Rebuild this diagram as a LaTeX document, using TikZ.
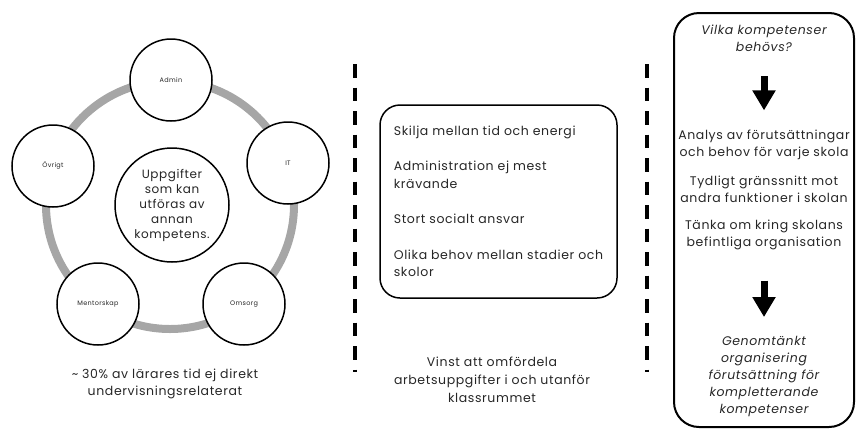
\documentclass[tikz,border=0pt]{standalone}
\usepackage{fontspec}
\setmainfont{Poppins}[LetterSpace=5]
\usetikzlibrary{arrows.meta}
\definecolor{ringgray}{HTML}{A6A6A6}
\definecolor{textgray}{HTML}{262626}
\begin{document}
\begin{tikzpicture}[x=1pt, y=-1pt,
  ring style/.style={draw=ringgray, line width=8pt},
  topic style/.style={circle, draw, line width=1.5pt, fill=white, minimum size=82pt, inner sep=0pt, text=textgray, font=\fontsize{6.5}{8}\selectfont},
  core style/.style={circle, draw, line width=1.5pt, fill=white, minimum size=114pt, inner sep=0pt, align=center, text=textgray, font=\fontsize{12}{15}\selectfont},
  box style/.style={rectangle, draw, rounded corners=20pt, line width=1.5pt, minimum width=237pt, minimum height=193pt, align=left, text=textgray, font=\fontsize{12.5}{17.5}\selectfont},
  frame style/.style={rectangle, draw, rounded corners=25pt, line width=2pt, minimum width=180pt, minimum height=414pt},
  text style/.style={align=center, inner sep=0pt, text=textgray, font=\fontsize{12.5}{17}\selectfont},
  arrow style/.style={line width=7pt, -{Triangle[width=22pt, length=20pt]}},
  divider style/.style={line width=4pt, dash pattern=on 13.5pt off 10pt}]
	\useasboundingbox (0,0) rectangle (856,432);
	% left: tasks around the teacher
	\draw[ring style] (170,205) circle (124pt);
	\node[core style] (C0) at (172,205) {Uppgifter\\som kan\\utföras av\\annan\\kompetens.};
	\node[topic style] (C1) at (171,80) {Admin};
	\node[topic style] (C2) at (288,163) {IT};
	\node[topic style] (C3) at (244,304) {Omsorg};
	\node[topic style] (C4) at (98,304) {Mentorskap};
	\node[topic style] (C5) at (53,166) {Övrigt};
	\node[text style] (L1) at (165,383.5) {\textasciitilde{} 30\% av lärares tid ej direkt\\undervisningsrelaterat};
	% dividers
	\foreach \x in {355,647}
	\draw[divider style] (\x,64) -- (\x,372);
	% middle
	\node[box style] (M1) at (498.5,201.5) {Skilja mellan tid och energi\\[18pt]Administration ej mest\\krävande\\[18pt]Stort socialt ansvar\\[18pt]Olika behov mellan stadier och\\skolor};
	\node[text style, font=\fontsize{12.5}{18}\selectfont] (M2) at (492,380) {Vinst att omfördela\\arbetsuppgifter i och utanför\\klassrummet};
	% right
	\node[frame style] (F) at (764,220) {};
	\node[text style, font=\fontsize{12.5}{17}\selectfont\itshape] (R1) at (764,38.5) {Vilka kompetenser\\behövs?};
	\node[text style] (R2) at (764,144.5) {Analys av förutsättningar\\och behov för varje skola};
	\node[text style] (R3) at (764,189.5) {Tydligt gränssnitt mot\\andra funktioner i skolan};
	\node[text style] (R4) at (764,234.5) {Tänka om kring skolans\\befintliga organisation};
	\node[text style, font=\fontsize{12.5}{17}\selectfont\itshape] (R5) at (764,376.5) {Genomtänkt\\organisering\\förutsättning för\\kompletterande\\kompetenser};
	\draw[arrow style, shorten <=24pt, shorten >=19pt] (R1) -- (R2);
	\draw[arrow style, shorten <=31pt, shorten >=19pt] (R4) -- (R5);
\end{tikzpicture}
\end{document}
